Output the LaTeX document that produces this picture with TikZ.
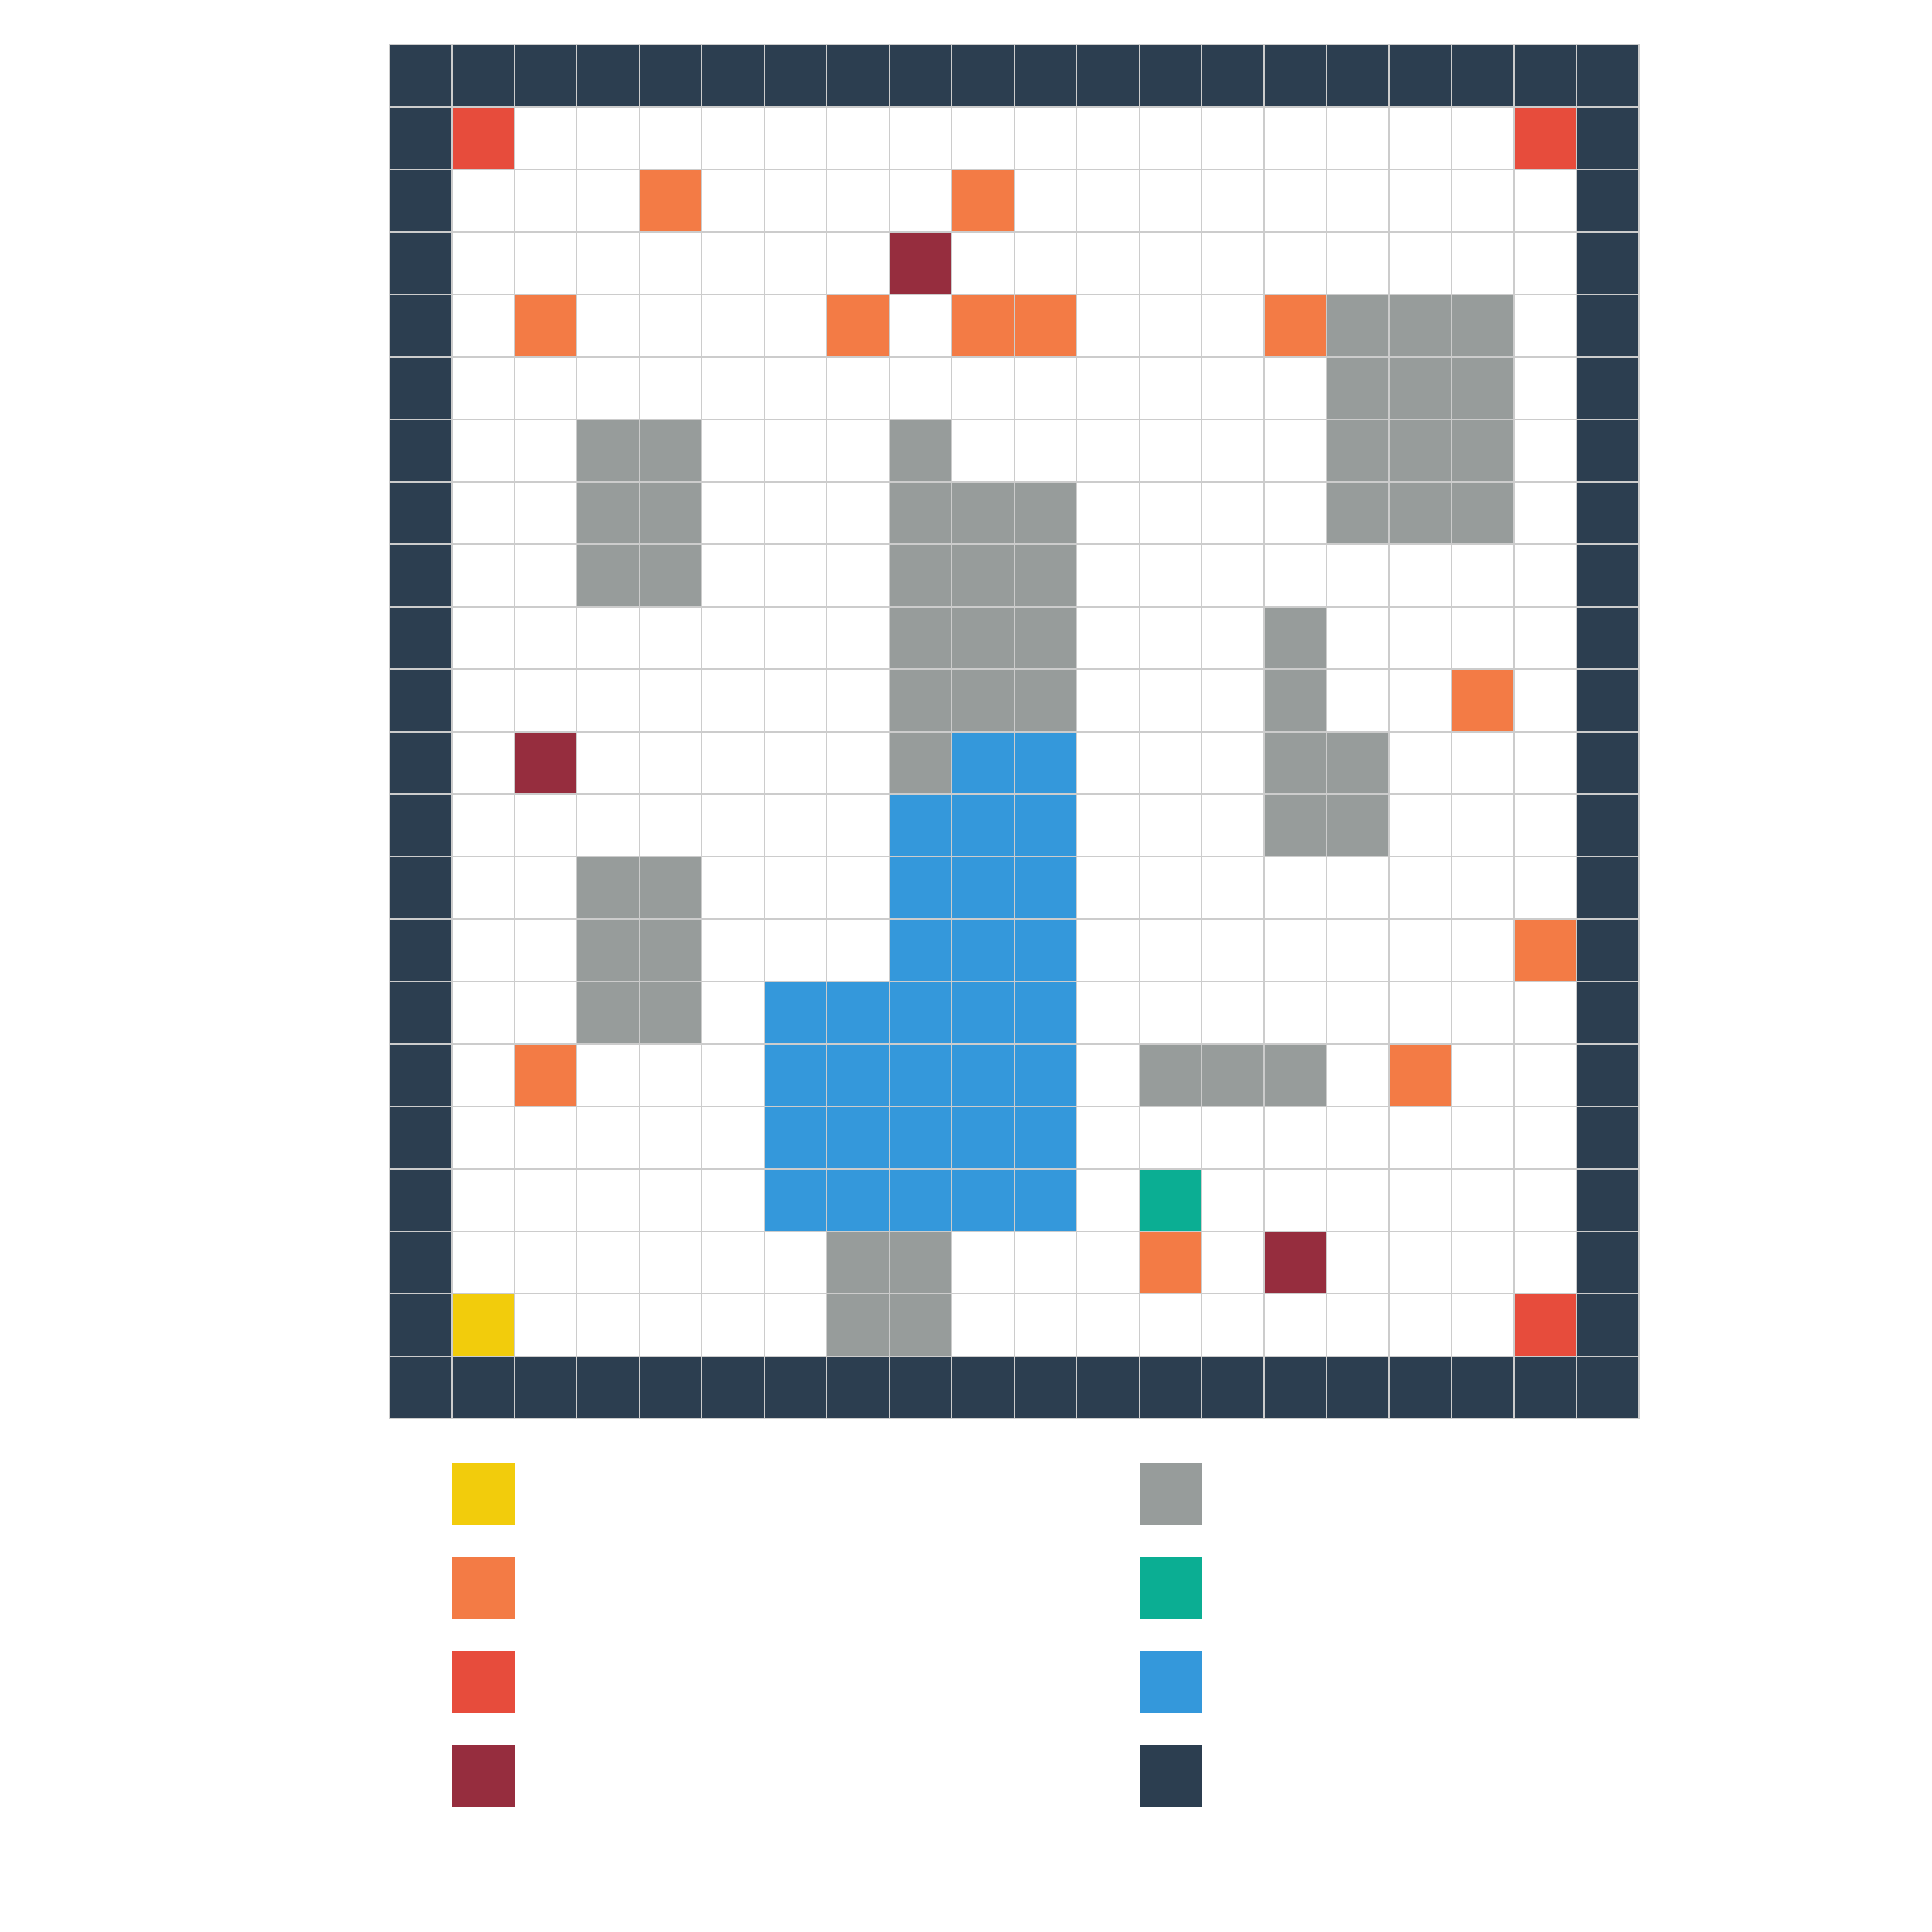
\documentclass[tikz,border=0pt]{standalone}
\usepackage{xcolor}
\usepackage{tikz}
\usetikzlibrary{positioning}

\definecolor{wallc}{HTML}{2C3E50}
\definecolor{rockc}{HTML}{979C9B}
\definecolor{waterc}{HTML}{3498DB}
\definecolor{goalc}{HTML}{0BAE93}
\definecolor{startc}{HTML}{F2CC0C}
\definecolor{itemc}{HTML}{F37B45}
\definecolor{trapc}{HTML}{E74C3C}
\definecolor{enemyc}{HTML}{962D3E}
\definecolor{linec}{HTML}{CCCCCC}

\begin{document}
\begin{tikzpicture}[
  x=1cm, y=1cm,
  gridline/.style={draw=linec, line width=0.6pt},
  key/.style={rectangle, inner sep=0pt, minimum size=1cm, draw=none}
]

\useasboundingbox (-6.236,0.713) rectangle (24.694,-30.217);

% outer walls
\foreach \c in {0,...,19} {
  \fill[wallc] (\c,0) rectangle ++(1,-1);
  \fill[wallc] (\c,-21) rectangle ++(1,-1);
}
\foreach \r in {1,...,20} {
  \fill[wallc] (0,-\r) rectangle ++(1,-1);
  \fill[wallc] (19,-\r) rectangle ++(1,-1);
}

% rocks
\foreach \c/\r in {15/4,16/4,17/4, 15/5,16/5,17/5,
                   3/6,4/6,8/6,15/6,16/6,17/6,
                   3/7,4/7,8/7,9/7,10/7,15/7,16/7,17/7,
                   3/8,4/8,8/8,9/8,10/8,
                   8/9,9/9,10/9,14/9, 8/10,9/10,10/10,14/10,
                   8/11,14/11,15/11, 14/12,15/12,
                   3/13,4/13, 3/14,4/14, 3/15,4/15,
                   12/16,13/16,14/16, 7/19,8/19, 7/20,8/20}
  \fill[rockc] (\c,-\r) rectangle ++(1,-1);

% water
\foreach \c/\r in {9/11,10/11, 8/12,9/12,10/12, 8/13,9/13,10/13, 8/14,9/14,10/14}
  \fill[waterc] (\c,-\r) rectangle ++(1,-1);
\foreach \r in {15,...,18}
  \foreach \c in {6,...,10}
    \fill[waterc] (\c,-\r) rectangle ++(1,-1);

% items, traps, enemies
\foreach \c/\r in {4/2,9/2,2/4,7/4,9/4,10/4,14/4,17/10,18/14,2/16,16/16,12/19}
  \fill[itemc] (\c,-\r) rectangle ++(1,-1);
\foreach \c/\r in {1/1,18/1,18/20}
  \fill[trapc] (\c,-\r) rectangle ++(1,-1);
\foreach \c/\r in {8/3,2/11,14/19}
  \fill[enemyc] (\c,-\r) rectangle ++(1,-1);

\fill[goalc] (12,-18) rectangle ++(1,-1);
\fill[startc] (1,-20) rectangle ++(1,-1);

\draw[gridline] (0,-22) grid (20,0);

% legend
\node[key, fill=startc, anchor=north west] (kstart) at (1,-22.70) {};
\node[key, fill=itemc, below=0.49cm of kstart] (kitem) {};
\node[key, fill=trapc, below=0.49cm of kitem] (ktrap) {};
\node[key, fill=enemyc, below=0.49cm of ktrap] (kenemy) {};
\node[key, fill=rockc, anchor=north west] (krock) at (12,-22.70) {};
\node[key, fill=goalc, below=0.49cm of krock] (kgoal) {};
\node[key, fill=waterc, below=0.49cm of kgoal] (kwater) {};
\node[key, fill=wallc, below=0.49cm of kwater] (kwall) {};

\end{tikzpicture}
\end{document}
